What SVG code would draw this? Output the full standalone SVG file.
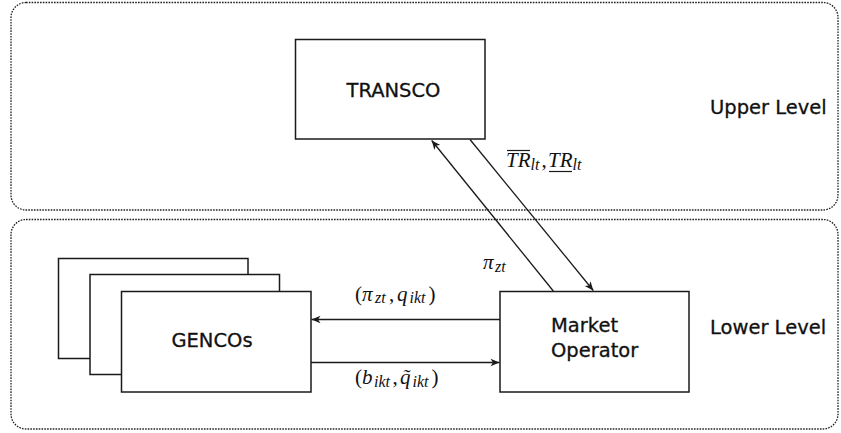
<svg xmlns="http://www.w3.org/2000/svg" width="841" height="433" viewBox="0 0 841 433">
  <style>
    .level { fill: none; stroke: #222222; stroke-width: 1.3; stroke-dasharray: 1.6 1.2; }
    .box { fill: #ffffff; stroke: #1a1a1a; stroke-width: 1.5; }
    .label { font-family: "DejaVu Sans", "Noto Sans", sans-serif; font-size: 19.5px; fill: #111111; stroke: #111111; stroke-width: 0.3; }
    .math { font-family: "Liberation Serif", "DejaVu Serif", serif; font-style: italic; font-size: 21px; fill: #111111; }
    .up { font-style: normal; }
    .sub { font-size: 16px; }
    .edge { fill: none; stroke: #1a1a1a; stroke-width: 1.3; }
    .bar { stroke: #1a1a1a; stroke-width: 1.2; }
  </style>
  <defs>
    <marker id="arrow" viewBox="-10 -5 11 10" refX="0" refY="0" markerWidth="11" markerHeight="10" markerUnits="userSpaceOnUse" orient="auto">
      <path d="M0,0 L-9,-3.8 L-6.5,0 L-9,3.8 Z" fill="#1a1a1a"/>
    </marker>
  </defs>

  <rect width="841" height="433" fill="#ffffff"/>

  <!-- level frames -->
  <g id="upper-level">
    <rect class="level" x="11" y="2.5" width="827" height="207.5" rx="15" ry="15"/>
    <text class="label" x="710" y="114">Upper Level</text>
  </g>
  <g id="lower-level">
    <rect class="level" x="11" y="219.5" width="827" height="209.5" rx="15" ry="15"/>
    <text class="label" x="710" y="333.5">Lower Level</text>
  </g>

  <!-- nodes -->
  <g id="transco">
    <rect class="box" x="295.5" y="39.5" width="189.5" height="99.5"/>
    <text class="label" x="393.5" y="96.5" text-anchor="middle">TRANSCO</text>
  </g>

  <g id="gencos">
    <rect class="box" x="58.5" y="258.5" width="189.5" height="100"/>
    <rect class="box" x="90" y="274.5" width="189.5" height="100"/>
    <rect class="box" x="121.5" y="291.5" width="189.5" height="100.5"/>
    <text class="label" x="212" y="346.5" text-anchor="middle">GENCOs</text>
  </g>

  <g id="market-operator">
    <rect class="box" x="500" y="291.5" width="189" height="100.5"/>
    <text class="label" x="551" y="331.5">Market</text>
    <text class="label" x="551" y="356.5">Operator</text>
  </g>

  <!-- connectors -->
  <g id="connectors">
    <line class="edge" x1="553.3" y1="291" x2="431.7" y2="140.5" marker-end="url(#arrow)"/>
    <line class="edge" x1="470" y1="139.5" x2="593.3" y2="290.5" marker-end="url(#arrow)"/>
    <line class="edge" x1="500" y1="319.5" x2="311.5" y2="319.5" marker-end="url(#arrow)"/>
    <line class="edge" x1="311" y1="362.5" x2="499.5" y2="362.5" marker-end="url(#arrow)"/>
  </g>

  <!-- connector labels -->
  <g id="labels">
    <text class="math" y="167"><tspan x="506">TR</tspan><tspan class="sub" x="530.5" dy="3">lt</tspan><tspan class="up" x="541.5" dy="-3">,</tspan><tspan x="548">TR</tspan><tspan class="sub" x="572.5" dy="3">lt</tspan></text>
    <line class="bar" x1="507" y1="150.5" x2="530" y2="150.5"/>
    <line class="bar" x1="549" y1="171.5" x2="572" y2="171.5"/>

    <text class="math" y="269"><tspan x="483">π</tspan><tspan class="sub" x="495" dy="3">zt</tspan></text>

    <text class="math" y="300.5"><tspan class="up" x="355">(</tspan><tspan x="362">π</tspan><tspan class="sub" x="375" dy="2.5">zt</tspan><tspan class="up" x="389" dy="-2.5">,</tspan><tspan x="397">q</tspan><tspan class="sub" x="409.5" dy="2.5">ikt</tspan><tspan class="up" x="428.5" dy="-2.5">)</tspan></text>

    <text class="math" y="384"><tspan class="up" x="355">(</tspan><tspan x="362">b</tspan><tspan class="sub" x="374" dy="2.5">ikt</tspan><tspan class="up" x="392.5" dy="-2.5">,</tspan><tspan x="400">q̃</tspan><tspan class="sub" x="412.5" dy="2.5">ikt</tspan><tspan class="up" x="431.5" dy="-2.5">)</tspan></text>
  </g>
</svg>
